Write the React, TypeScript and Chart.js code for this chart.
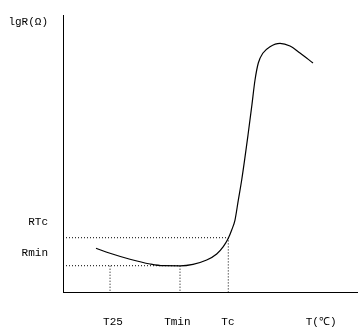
import React, { useEffect, useRef } from "react";
import { Chart, registerables } from "chart.js";

Chart.register(...registerables);

// Curve: x (0..100 temperature units), y (0..100 lgR units)
const curveX = [11.22, 15.99, 22.79, 29.59, 34.01, 39.8, 44.22, 48.88, 52.28, 54.52, 56.22, 57.38, 58.5, 59.63, 60.78, 62.93, 64.18, 65.31, 66.43, 68.03, 70.41, 73.81, 77.21, 80.61, 85.03];
const curveY = [15.78, 13.97, 11.81, 10.11, 9.49, 9.46, 10.0, 11.55, 13.72, 16.35, 19.39, 22.38, 25.99, 33.2, 40.43, 56.68, 66.9, 76.53, 82.67, 86.28, 88.56, 89.78, 88.81, 86.28, 82.67];

// Reference levels
const rminY = 9.49;
const rtcY = 19.6;
const t25X = 16.0;
const tminX = 39.8;
const tcX = 56.22;

// Tick labels
const xTickValues = [17.0, 38.9, 56.1, 87.8];
const xTickLabels = ["T25", "Tmin", "Tc", "T(℃)"];
const yTickValues = [14.1, 25.4, 97.5];
const yTickLabels = ["Rmin", "RTc", "lgR(Ω)"];

export default function App() {
  const ref = useRef<HTMLCanvasElement | null>(null);
  useEffect(() => {
    if (!ref.current) return;
    const dotted = {
      borderColor: "#000",
      borderWidth: 1,
      borderDash: [1, 2],
      pointRadius: 0,
      fill: false,
      tension: 0,
    };
    const chart = new Chart(ref.current, {
      type: "line",
      data: {
        datasets: [
          {
            data: curveX.map((x, i) => ({ x, y: curveY[i] })),
            borderColor: "#000",
            borderWidth: 1.2,
            pointRadius: 0,
            cubicInterpolationMode: "monotone",
            fill: false,
          },
          { ...dotted, data: [{ x: 0, y: rtcY }, { x: tcX, y: rtcY }, { x: tcX, y: 0 }] },
          { ...dotted, data: [{ x: 0, y: rminY }, { x: tminX, y: rminY }, { x: tminX, y: 0 }] },
          { ...dotted, data: [{ x: t25X, y: rminY }, { x: t25X, y: 0 }] },
        ],
      },
      options: {
        animation: false,
        responsive: false,
        layout: { padding: { top: 15, right: 7, left: 0, bottom: 0 } },
        plugins: { legend: { display: false }, tooltip: { enabled: false } },
        scales: {
          x: {
            type: "linear",
            min: 0,
            max: 100,
            grid: { display: false, drawTicks: false },
            border: { display: true, color: "#000", width: 1 },
            afterBuildTicks: (s: any) => {
              s.ticks = xTickValues.map((v) => ({ value: v }));
            },
            afterFit: (s: any) => {
              s.height = 42;
              s.paddingLeft = 0;
              s.paddingRight = 0;
            },
            ticks: {
              autoSkip: false,
              maxRotation: 0,
              padding: 23,
              color: "#000",
              font: { family: "Liberation Mono", size: 11 },
              callback: (v: any) => {
                const i = xTickValues.indexOf(Number(v));
                return i >= 0 ? xTickLabels[i] : "";
              },
            },
          },
          y: {
            type: "linear",
            min: 0,
            max: 100,
            grid: { display: false, drawTicks: false },
            border: { display: true, color: "#000", width: 1 },
            afterBuildTicks: (s: any) => {
              s.ticks = yTickValues.map((v) => ({ value: v }));
            },
            afterFit: (s: any) => {
              s.width = 63;
              s.paddingTop = 0;
              s.paddingBottom = 0;
            },
            ticks: {
              autoSkip: false,
              padding: 15,
              color: "#000",
              font: { family: "Liberation Mono", size: 11 },
              callback: (v: any) => {
                const i = yTickValues.indexOf(Number(v));
                return i >= 0 ? yTickLabels[i] : "";
              },
            },
          },
        },
      },
    } as any);
    return () => chart.destroy();
  }, []);
  return (
    <div style={{ position: "absolute", left: 0, top: 0, width: 364, height: 334, background: "#fff" }}>
      <canvas ref={ref} width={364} height={334} style={{ width: 364, height: 334 }} />
    </div>
  );
}
